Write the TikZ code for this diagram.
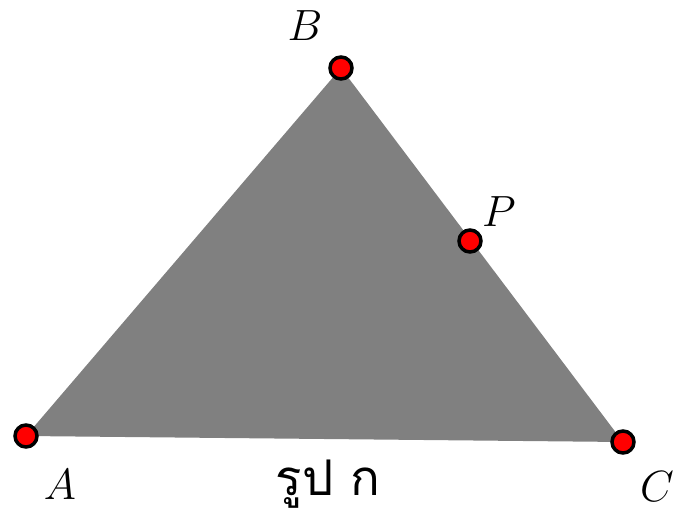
\documentclass[tikz,border=0pt]{standalone}
\usepackage{fontspec}
\newfontfamily\thaifont[Script=Thai]{Loma}
\usetikzlibrary{positioning}

\begin{document}
\begin{tikzpicture}[x=0.02cm,y=-0.02cm,
  pt/.style={circle,draw=black,line width=2pt,fill=red,minimum size=0.44cm,inner sep=0pt},
  lb/.style={font=\fontsize{26}{30}\selectfont}]
\useasboundingbox (0,0) rectangle (674,518);
\coordinate (A) at (26,436);
\coordinate (B) at (341,68);
\coordinate (C) at (623,442);
% the triangle
\fill[black!50] (A) -- (B) -- (C) -- cycle;
\node[pt] (nA) at (A) {};
\node[pt] (nB) at (B) {};
\node[pt] (nC) at (C) {};
\node[pt] (nP) at (470,241) {};
% labels
\node[lb] (lB) at (305,26) {$B$};
\node[lb] (lP) at (499,212) {$P$};
\node[lb] (lA) at (60,485) {$A$};
\node[lb] (lC) at (657,487) {$C$};
\node[font=\thaifont\fontsize{28}{32}\selectfont] (cap) at (328,484) {รูป ก};
\end{tikzpicture}
\end{document}
